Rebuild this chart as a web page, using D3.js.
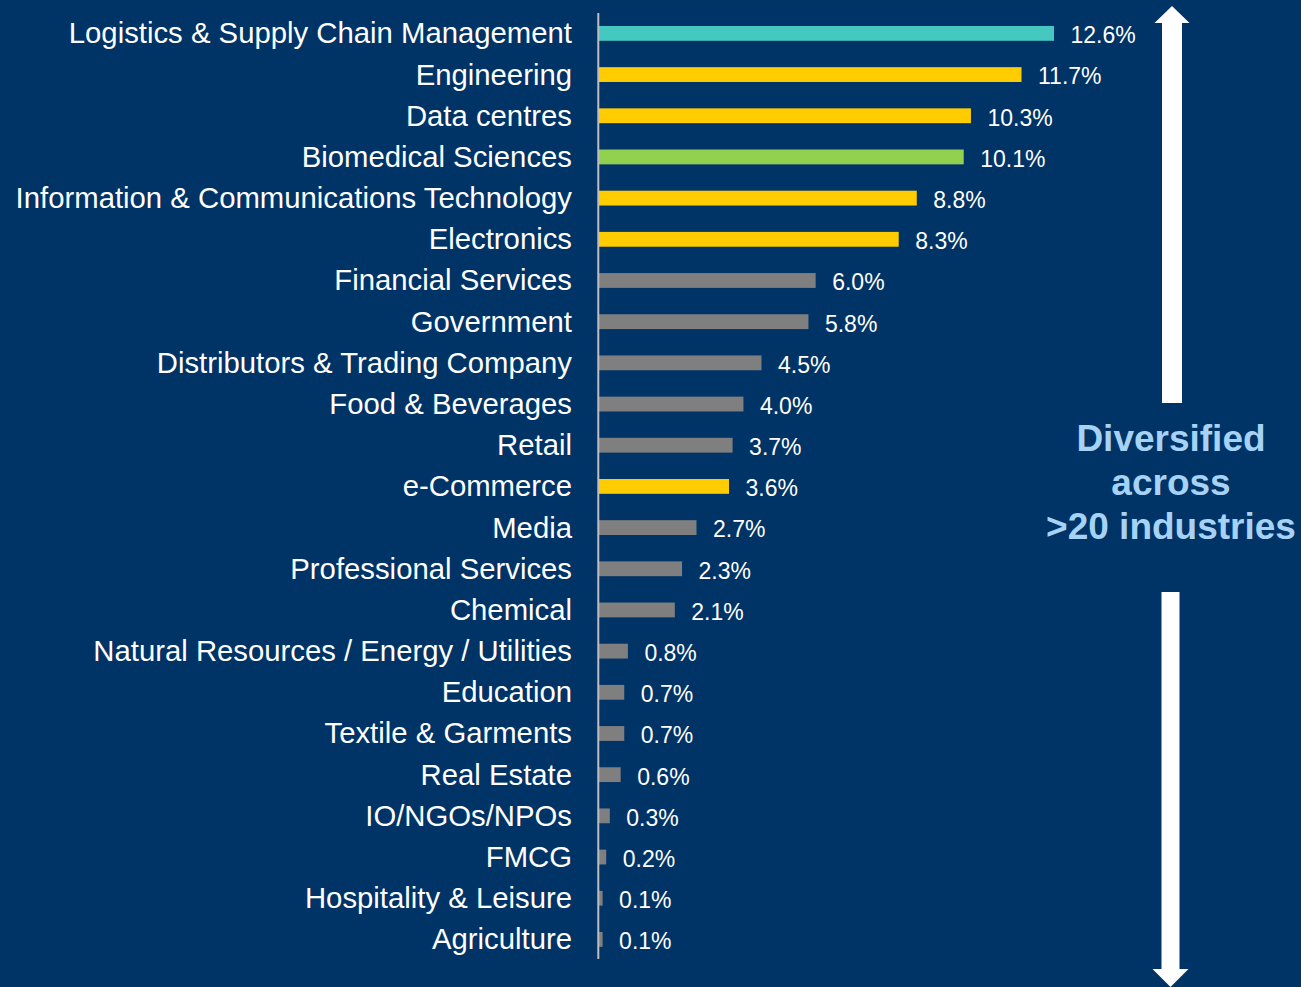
<!DOCTYPE html>
<html>
<head>
<meta charset="utf-8">
<script src="https://cdn.jsdelivr.net/npm/d3@7"></script>
<style>
  html, body { margin: 0; padding: 0; background: #003366; }
  svg { display: block; }
</style>
</head>
<body>
<div id="chart"></div>
<script>
// data
var industries = ["Logistics & Supply Chain Management", "Engineering", "Data centres",
  "Biomedical Sciences", "Information & Communications Technology", "Electronics",
  "Financial Services", "Government", "Distributors & Trading Company", "Food & Beverages",
  "Retail", "e-Commerce", "Media", "Professional Services", "Chemical",
  "Natural Resources / Energy / Utilities", "Education", "Textile & Garments",
  "Real Estate", "IO/NGOs/NPOs", "FMCG", "Hospitality & Leisure", "Agriculture"];
var shares = [12.6, 11.7, 10.3, 10.1, 8.8, 8.3, 6.0, 5.8, 4.5, 4.0, 3.7, 3.6, 2.7, 2.3, 2.1,
  0.8, 0.7, 0.7, 0.6, 0.3, 0.2, 0.1, 0.1];
var groups = ["logistics", "focus", "focus", "bio", "focus", "focus", "other", "other", "other",
  "other", "other", "focus", "other", "other", "other", "other", "other", "other", "other",
  "other", "other", "other", "other"];
var noteLines = ["Diversified", "across", ">20 industries"];

var colors = { logistics: "#44C8C0", focus: "#FFCC00", bio: "#92D050", other: "#7F7F7F" };

var width = 1301, height = 987;

var svg = d3.select("#chart").append("svg")
  .attr("width", width)
  .attr("height", height);

svg.append("rect")
  .attr("width", width)
  .attr("height", height)
  .attr("fill", "#003366");

// scales
var y = d3.scaleBand()
  .domain(industries)
  .range([12.8, 960])
  .paddingInner(0.64)
  .paddingOuter(0.32);

var x = d3.scaleLinear()
  .domain([0, 12.6])
  .range([599, 1054]);

// bars
svg.selectAll(".bar")
  .data(industries)
  .enter().append("rect")
  .attr("class", "bar")
  .attr("x", x(0))
  .attr("y", function(d) { return y(d); })
  .attr("width", function(d, i) { return Math.max(x(shares[i]) - x(0), 2); })
  .attr("height", y.bandwidth())
  .attr("fill", function(d, i) { return colors[groups[i]]; });

// category labels
svg.selectAll(".cat")
  .data(industries)
  .enter().append("text")
  .attr("class", "cat")
  .attr("x", 572)
  .attr("y", function(d) { return y(d) + y.bandwidth() / 2; })
  .attr("dy", "0.34em")
  .attr("text-anchor", "end")
  .attr("fill", "white")
  .style("font-family", "Liberation Sans, Arial, sans-serif")
  .style("font-size", "29.3px")
  .text(function(d) { return d; });

// value labels
svg.selectAll(".val")
  .data(industries)
  .enter().append("text")
  .attr("class", "val")
  .attr("x", function(d, i) { return Math.max(x(shares[i]), x(0) + 2) + 16.5; })
  .attr("y", function(d) { return y(d) + y.bandwidth() / 2; })
  .attr("dy", "0.43em")
  .attr("fill", "white")
  .style("font-family", "Liberation Sans, Arial, sans-serif")
  .style("font-size", "23px")
  .text(function(d, i) { return shares[i].toFixed(1) + "%"; });

// axis line
svg.append("line")
  .attr("x1", 598.3).attr("x2", 598.3)
  .attr("y1", 13).attr("y2", 959)
  .attr("stroke", "#BFBFBF")
  .attr("stroke-width", 2);

// arrows
var cx = 1172;
svg.append("path")
  .attr("d", "M" + cx + ",6 L" + (cx + 17.5) + ",23 L" + (cx + 10) + ",23 L" + (cx + 10) + ",403 L" +
    (cx - 10) + ",403 L" + (cx - 10) + ",23 L" + (cx - 17.5) + ",23 Z")
  .attr("fill", "white");

var cx2 = 1170.5;
svg.append("path")
  .attr("d", "M" + (cx2 - 9) + ",592 L" + (cx2 + 9) + ",592 L" + (cx2 + 9) + ",969 L" + (cx2 + 18) + ",969 L" +
    cx2 + ",987 L" + (cx2 - 18) + ",969 L" + (cx2 - 9) + ",969 Z")
  .attr("fill", "white");

// note
svg.selectAll(".note")
  .data(noteLines)
  .enter().append("text")
  .attr("class", "note")
  .attr("x", 1171)
  .attr("y", function(d, i) { return 451 + i * 44; })
  .attr("text-anchor", "middle")
  .attr("fill", "#A6D2F5")
  .style("font-family", "Liberation Sans, Arial, sans-serif")
  .style("font-weight", "bold")
  .style("font-size", "37px")
  .text(function(d) { return d; });
</script>
</body>
</html>
